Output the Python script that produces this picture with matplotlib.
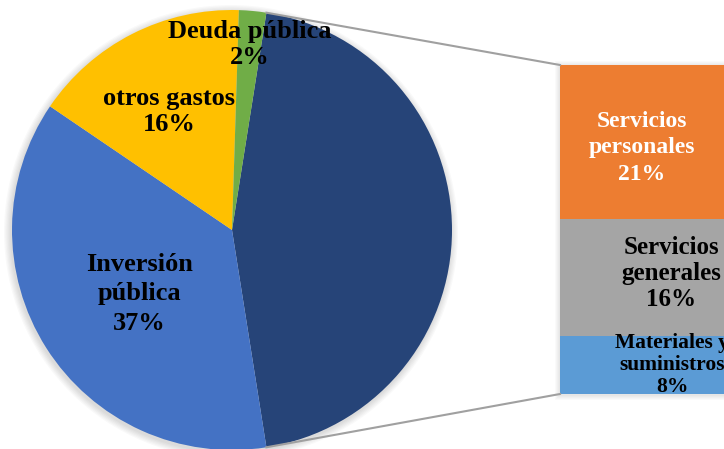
import numpy as np
import matplotlib
matplotlib.use("Agg")
import matplotlib.pyplot as plt
from matplotlib.patches import Circle, Rectangle

# ---- data ----
pie_labels = ["", "Inversión\npública", "otros gastos", "Deuda pública"]
pie_values = [45, 37, 16, 2]
pie_colors = ["#264478", "#4472C4", "#FFC000", "#70AD47"]

bar_labels = ["Materiales y\nsuministros", "Servicios\ngenerales", "Servicios\npersonales"]
bar_values = [8, 16, 21]
bar_colors = ["#5B9BD5", "#A5A5A5", "#ED7D31"]

W, H = 724, 449
fig = plt.figure(figsize=(W / 100, H / 100), dpi=100)
ax = fig.add_axes([0, 0, 1, 1])
ax.set_xlim(0, W)
ax.set_ylim(0, H)
ax.axis("off")

cx, cy, R = 232, H - 230, 220
font = "Liberation Serif"

# soft shadow for pie
for i in range(6):
    ax.add_patch(Circle((cx - 1, cy - 2), R + 1 + i * 1.2, color="black",
                        alpha=0.025, lw=0, zorder=1))

other_share = pie_values[0]
start = other_share / 100 * 180
wedges, _ = ax.pie(pie_values, colors=pie_colors, startangle=start,
                   counterclock=False, center=(cx, cy), radius=R,
                   wedgeprops=dict(linewidth=0, zorder=2), frame=True)
ax.set_xlim(0, W)
ax.set_ylim(0, H)
ax.set_aspect("equal")
ax.axis("off")

dists = [0, 0.50, 0.63, 0.85]
sizes = [0, 19, 19, 19]
spacings = [1, 1.34, 1.17, 1.17]
dys = [0, -5, -5, -1]
for w, lab, v, d, s, ls, dy in zip(wedges, pie_labels, pie_values, dists, sizes,
                                   spacings, dys):
    if not lab:
        continue
    ang = np.deg2rad((w.theta1 + w.theta2) / 2)
    x = cx + d * R * np.cos(ang)
    y = cy + d * R * np.sin(ang) + dy
    ax.text(x, y, f"{lab}\n{v}%", ha="center", va="center", fontsize=s,
            fontweight="bold", family=font, color="black", zorder=5,
            linespacing=ls)

# ---- stacked bar ----
bx0, bw = 560, 168
btop, bbot = H - 65, H - 394
scale = (btop - bbot) / sum(bar_values)
# shadow
for i in range(5):
    ax.add_patch(Rectangle((bx0 - 1 - i, bbot - 2 - i), bw + 2 * i, (btop - bbot) + 2 + 2 * i,
                           color="black", alpha=0.02, lw=0, zorder=1))
bottoms = np.concatenate([[0], np.cumsum(bar_values)[:-1]])
ax.bar([bx0] * len(bar_values), np.array(bar_values) * scale, width=bw,
       bottom=bbot + bottoms * scale, color=bar_colors, align="edge",
       linewidth=0, zorder=2)

bar_text_x = [672, 671, 642]
bar_text_sizes = [15.5, 18, 17]
bar_text_ls = [1.15, 1.19, 1.35]
bar_text_colors = ["black", "black", "white"]
bar_text_dy = [0, 3.5, -6]
for lab, v, b, tx, s, ls, c, dy in zip(bar_labels, bar_values, bottoms, bar_text_x,
                                       bar_text_sizes, bar_text_ls, bar_text_colors,
                                       bar_text_dy):
    y = bbot + (b + v / 2) * scale + dy
    ax.text(tx, y, f"{lab}\n{v}%", ha="center", va="center", fontsize=s,
            fontweight="bold", family=font, color=c, zorder=5, linespacing=ls)

# ---- connector lines ----
a1 = np.deg2rad(wedges[0].theta2)
a2 = np.deg2rad(wedges[0].theta1)
p1 = (cx + R * np.cos(a1), cy + R * np.sin(a1))
p2 = (cx + R * np.cos(a2), cy + R * np.sin(a2))
ax.plot([p1[0], bx0], [p1[1], btop], color="#A0A0A0", lw=1.5, zorder=3)
ax.plot([p2[0], bx0], [p2[1], bbot], color="#A0A0A0", lw=1.5, zorder=3)

fig.savefig("out.png", dpi=100)
